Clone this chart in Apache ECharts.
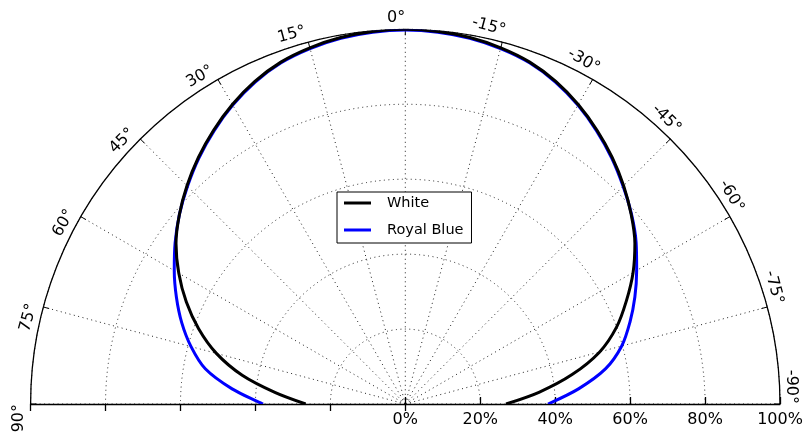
<!DOCTYPE html>
<html>
<head>
<meta charset="utf-8">
<script src="https://cdn.jsdelivr.net/npm/echarts@6/dist/echarts.min.js"></script>
<style>
html,body{margin:0;padding:0;background:#fff;}
#chart{width:808px;height:436px;}
</style>
</head>
<body>
<div id="chart"></div>
<script>
// Angles (degrees, 0 = up, positive = towards the left)
const angles = [-90,-85,-80,-75,-70,-65,-60,-55,-50,-45,-40,-35,-30,-25,-20,-15,-10,-5,0,
                5,10,15,20,25,30,35,40,45,50,55,60,65,70,75,80,85,90];
// Relative intensity (%) for each angle
const whiteValues = [26.9,35.8,45.2,53.7,60.0,65.1,70.2,74.8,78.7,82.4,85.9,89.2,92.3,95.0,97.1,98.4,99.3,99.8,100,
                     99.8,99.3,98.4,97.1,95.0,92.3,89.2,85.9,82.4,78.7,74.7,69.8,64.5,58.7,52.2,44.2,34.8,26.6];
const blueValues  = [38.1,46.4,54.3,59.8,63.8,67.6,71.3,75.2,78.8,82.2,85.7,89.0,92.1,94.8,96.9,98.2,99.1,99.6,99.8,
                     99.6,99.1,98.2,96.9,94.8,92.1,89.0,85.7,82.2,78.7,75.0,71.2,67.4,63.5,59.2,54.2,46.4,38.0];
const seriesNames = ['White', 'Royal Blue'];
const seriesColors = ['#000000', '#0000ff'];
const angleTicks = [-90,-75,-60,-45,-30,-15,0,15,30,45,60,75,90];
const radiusTicks = [0,20,40,60,80,100];

const FONT = 'DejaVu Sans';
const chart = echarts.init(document.getElementById('chart'), null, {renderer: 'canvas'});

const dotted = {color: '#222', width: 1, type: [1, 3.5]};

const option = {
  animation: false,
  backgroundColor: '#fff',
  polar: [
    {center: [405.3, 404], radius: 374.7},
    {center: [405.3, 404], radius: 374.7}
  ],
  angleAxis: [
    {
      polarIndex: 0, type: 'value', min: -90, max: 90, interval: 15,
      startAngle: 0, endAngle: 180, clockwise: false,
      axisLine: {show: true, lineStyle: {color: '#000', width: 1.3}},
      axisTick: {show: true, inside: true, length: 6, lineStyle: {color: '#000', width: 1}},
      axisLabel: {show: false},
      splitLine: {show: true, lineStyle: dotted}
    },
    {
      polarIndex: 1, type: 'value', min: -90, max: 90,
      startAngle: 180, endAngle: 0, clockwise: true, show: false
    }
  ],
  radiusAxis: [
    {
      polarIndex: 0, type: 'value', min: radiusTicks[0], max: radiusTicks[radiusTicks.length - 1], interval: 20,
      axisLine: {show: true, lineStyle: {color: '#000', width: 1.3}},
      axisTick: {show: true, length: 7, lineStyle: {color: '#000', width: 1.3}},
      axisLabel: {show: true, margin: -24, color: '#000', fontSize: 16, fontFamily: FONT,
                  formatter: '{value}%'},
      splitLine: {show: true, lineStyle: dotted}
    },
    {
      polarIndex: 1, type: 'value', min: 0, max: 100, interval: 20,
      axisLine: {show: true, lineStyle: {color: '#000', width: 1.3}},
      axisTick: {show: true, inside: true, length: 7, lineStyle: {color: '#000', width: 1.3}},
      axisLabel: {show: false},
      splitLine: {show: false}
    }
  ],
  legend: {
    data: seriesNames,
    orient: 'vertical',
    left: 337, top: 192,
    padding: [2.5, 8, 4.5, 7],
    itemWidth: 27, itemHeight: 3, icon: 'rect', itemGap: 10,
    borderColor: '#000', borderWidth: 1, borderRadius: 0,
    backgroundColor: '#fff',
    textStyle: {fontSize: 14.5, color: '#000', fontFamily: FONT, lineHeight: 17, padding: [0, 0, 0, 11]}
  },
  series: [
    {
      name: seriesNames[0], type: 'line', coordinateSystem: 'polar', polarIndex: 0,
      data: angles.map((a, i) => [whiteValues[i], a]),
      showSymbol: false, symbol: 'none', color: seriesColors[0], smooth: 0.3,
      lineStyle: {width: 3, color: seriesColors[0]}, z: 4
    },
    {
      name: seriesNames[1], type: 'line', coordinateSystem: 'polar', polarIndex: 0,
      data: angles.map((a, i) => [blueValues[i], a]),
      showSymbol: false, symbol: 'none', color: seriesColors[1], smooth: 0.3,
      lineStyle: {width: 3, color: seriesColors[1]}, z: 3
    },
    {
      type: 'custom', coordinateSystem: 'polar', polarIndex: 0, silent: true,
      data: angleTicks.map(a => [103.1, a]),
      renderItem: function (params, api) {
        const ang = api.value(1);
        const p = api.coord([api.value(0), ang]);
        return {
          type: 'text', x: p[0], y: p[1], rotation: ang * Math.PI / 180,
          style: {text: ang + '°', align: 'right', verticalAlign: 'middle',
                  fontSize: 16, fontFamily: FONT, fill: '#000'}
        };
      }
    }
  ]
};
chart.setOption(option);
</script>
</body>
</html>
